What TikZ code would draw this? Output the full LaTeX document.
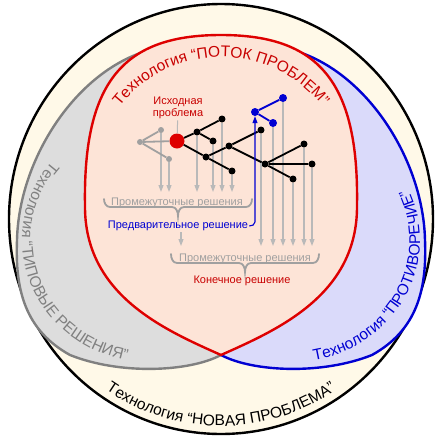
\documentclass[tikz,border=0pt]{standalone}
\usepackage{fontspec}
\setmainfont{Liberation Sans}
\usetikzlibrary{arrows.meta}
\usetikzlibrary{decorations.text}
\definecolor{cream}{RGB}{255,249,232}
\definecolor{grayfill}{RGB}{221,221,221}
\definecolor{bluefill}{RGB}{218,218,250}
\definecolor{redfill}{RGB}{253,228,215}
\definecolor{zonegray}{RGB}{128,128,128}
\definecolor{zoneblue}{RGB}{0,0,210}
\definecolor{zonered}{RGB}{222,0,0}
\definecolor{titlered}{RGB}{200,0,0}
\definecolor{flowgray}{RGB}{185,185,185}
\definecolor{notegray}{RGB}{160,160,160}
\newcommand{\curvefont}{\fontsize{15.5}{17}\selectfont}
\tikzset{
	>={Triangle[width=5pt,length=7pt]},
	zone/.style={line width=2.4pt, line join=round},
	note/.style={font=\fontsize{11}{12.5}\selectfont, inner sep=1pt},
	dot/.style={circle, fill=black, inner sep=0pt, minimum size=7pt},
	rootdot/.style={circle, fill=zonered, inner sep=0pt, minimum size=15pt},
	graydot/.style={circle, fill=notegray, inner sep=0pt, minimum size=6pt},
	bluedot/.style={circle, fill=zoneblue, inner sep=0pt, minimum size=8pt},
	treeedge/.style={line width=1.8pt},
	flow/.style={->, draw=flowgray, fill=flowgray, line width=1.1pt},
	brace/.style={draw=notegray, line width=1.8pt, line cap=round}
}
\begin{document}
\begin{tikzpicture}[x=1pt, y=1pt]
	\fill[white] (0,0) rectangle (440,-440);
	\useasboundingbox (0,0) rectangle (440,-440);
	\draw[zone, fill=cream] (221,-219) ellipse [x radius=212, y radius=215];
	\draw[zone, draw=zonegray, fill=grayfill] (221,-355) .. controls (189,-372) and (120,-375) .. (70,-355) .. controls (25,-330) and (15,-290) .. (17,-240) .. controls (19,-150) and (90,-50) .. (175,-46) -- (221,-100) -- cycle;
	\draw[zone, draw=zoneblue, fill=bluefill] (221,-355) .. controls (253,-372) and (322,-375) .. (372,-355) .. controls (417,-330) and (427,-290) .. (425,-240) .. controls (423,-150) and (352,-50) .. (267,-46) -- (221,-100) -- cycle;
	\draw[zone, draw=zonered, fill=redfill] (221,-355) .. controls (165,-330) and (84,-295) .. (85,-205) .. controls (83,-80) and (125,-35) .. (221,-35) .. controls (317,-35) and (359,-80) .. (357,-205) .. controls (358,-295) and (277,-330) .. (221,-355) -- cycle;
	\path[decorate, decoration={text along path, text align=center, text={|\curvefont\color{titlered}|Технология “ПОТОК ПРОБЛЕМ”}}] ([shift={(221,-185.5)}]155:128.5) arc [start angle=155, end angle=25, radius=128.5];
	\path[decorate, decoration={text along path, text={|\curvefont\color{zonegray}|Технология “ТИПОВЫЕ РЕШЕНИЯ”}}] ([shift={(150,-240)}]140:128 and 122) arc [start angle=140, end angle=290, x radius=128, y radius=122];
	\path[decorate, decoration={text along path, text={|\curvefont\color{zoneblue}|Технология “ПРОТИВОРЕЧИЕ”}}] ([shift={(292,-240)}]-80:128 and 122) arc [start angle=-80, end angle=45, x radius=128, y radius=122];
	\path[decorate, decoration={text along path, text align=center, text={|\curvefont|Технология “НОВАЯ ПРОБЛЕМА”}}] ([shift={(221,-219)}]228:204 and 207) arc [start angle=228, end angle=312, x radius=204, y radius=207];
	\coordinate (lvl1) at (0,-192);
	\coordinate (lvl2) at (0,-246);
	\coordinate (blueturn) at (0,-222);
	\node[rootdot] (R) at (177,-141) {};
	\node[dot] (A) at (197,-132) {};
	\node[dot] (A1) at (222,-119) {};
	\node[dot] (A2) at (213,-141) {};
	\node[dot] (B) at (206,-157) {};
	\node[dot] (E) at (232,-171) {};
	\node[dot] (C) at (229,-146) {};
	\node[dot] (D) at (261,-130) {};
	\node[dot] (H) at (265,-164) {};
	\node[dot] (H1) at (304,-144) {};
	\node[dot] (H2) at (312,-164) {};
	\node[dot] (H3) at (293,-179) {};
	\node[graydot] (G) at (140,-142) {};
	\node[graydot] (G1) at (161,-130) {};
	\node[graydot] (G2) at (169,-159) {};
	\node[bluedot] (P) at (255,-112) {};
	\node[bluedot] (P1) at (283,-98) {};
	\node[bluedot] (P2) at (273,-123) {};
	\node[note, text=titlered, align=center] (srclabel) at (178,-108) {Исходная\\проблема};
	\node[note, text=notegray] (mid1) at (177,-203) {Промежуточные решения};
	\node[note, text=zoneblue] (prelim) at (178,-226) {Предварительное решение};
	\node[note, text=notegray] (mid2) at (245,-259) {Промежуточные решения};
	\node[note, text=titlered] (final) at (242,-281) {Конечное решение};
	\draw[flowgray, line width=1pt] (R) -- (srclabel);
	\foreach \n in {G1,G2,A,A2,A1,E} \draw[flow] (\n) -- (\n |- lvl1);
	\foreach \n in {D,P2,P1,H3,H1,H2} \draw[flow] (\n) -- (\n |- lvl2);
	\draw[flow] (prelim.south -| 181,0) -- (181,0 |- lvl2);
	\draw[treeedge, draw=notegray] (G) -- (R) (G) -- (G1) (G) -- (G2);
	\draw[treeedge] (R) -- (A) (A) -- (A1) (A) -- (A2) (R) -- (B) (B) -- (E) (B) -- (C) (C) -- (D) (C) -- (H) (H) -- (H1) (H) -- (H2) (H) -- (H3);
	\draw[treeedge, draw=zoneblue] (P) -- (P1) (P) -- (P2);
	\draw[->, zoneblue, line width=1.1pt] (prelim.east) to[out=0, in=-90] (P |- blueturn) -- (P);
	\draw[brace] (104,-199) to[out=-90, in=180] (110,-207) -- (172,-207) to[out=0, in=90] (178,-216) to[out=90, in=180] (184,-207) -- (246,-207) to[out=0, in=-90] (252,-199);
	\draw[brace] (171,-254) to[out=-90, in=180] (177,-263) -- (239,-263) to[out=0, in=90] (245,-272) to[out=90, in=180] (251,-263) -- (313,-263) to[out=0, in=-90] (319,-254);
\end{tikzpicture}
\end{document}
